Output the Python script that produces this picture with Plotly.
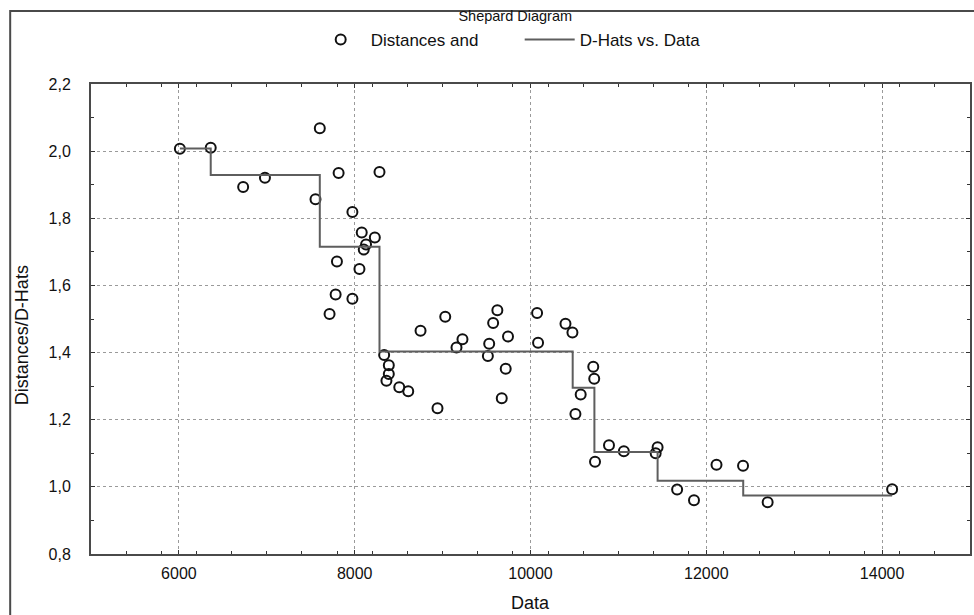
import plotly.graph_objects as go

# Observed distances (Data) and disparities
data_x = [6011, 6362, 6731, 6979, 7603, 7817, 8282, 7554, 7974, 8080, 8229, 8129, 8103,
          7798, 8054, 7783, 7974, 7714, 9623, 9030, 10075, 9575, 10398, 10477, 8749,
          9744, 9226, 9158, 9530, 10086, 8335, 9515, 8388, 8388, 8361, 9718, 8507,
          8609, 8942, 9673, 10714, 10725, 10571, 10511, 10893, 11062, 10734, 11446,
          11424, 12116, 12418, 11668, 11860, 12698, 14114]
distances = [2.007, 2.010, 1.893, 1.921, 2.068, 1.935, 1.938, 1.857, 1.819, 1.758, 1.743,
             1.722, 1.707, 1.671, 1.649, 1.573, 1.560, 1.515, 1.526, 1.507, 1.518, 1.488,
             1.486, 1.460, 1.465, 1.448, 1.440, 1.415, 1.426, 1.429, 1.393, 1.390, 1.362,
             1.336, 1.316, 1.352, 1.297, 1.285, 1.234, 1.264, 1.358, 1.322, 1.275, 1.217,
             1.124, 1.106, 1.075, 1.118, 1.100, 1.066, 1.063, 0.992, 0.960, 0.954, 0.993]

# D-hat step function
dhat_x = [6011, 6362, 7603, 8282, 10480, 10727, 11446, 12420, 14114]
dhat_y = [2.008, 1.929, 1.715, 1.403, 1.295, 1.104, 1.018, 0.974, 0.974]

x_ticks = [6000, 8000, 10000, 12000, 14000]
y_ticks = [0.8, 1.0, 1.2, 1.4, 1.6, 1.8, 2.0, 2.2]

FONT = "Liberation Sans, Arial, sans-serif"
INK = "#111111"

W, H = 974, 615
L, R, T, B = 91, 2, 84, 61
PW, PH = W - L - R, H - T - B


def px_x(p):
    return (p - L) / PW


def px_y(p):
    return (H - B - p) / PH


fig = go.Figure()
fig.add_trace(go.Scatter(
    x=data_x, y=distances, mode="markers", name="Distances and",
    marker=dict(symbol="circle-open", size=10, color=INK, line=dict(width=2, color=INK)),
))
fig.add_trace(go.Scatter(
    x=dhat_x, y=dhat_y, mode="lines", name="D-Hats vs. Data",
    line=dict(shape="hv", color="#5e5e5e", width=2),
))

axis_common = dict(
    showline=True, linecolor="#4a4a4a", linewidth=2, mirror="ticks",
    ticks="inside", ticklen=4, tickcolor="#333333", tickwidth=1,
    showgrid=True, gridcolor="#9a9a9a", griddash="dot", gridwidth=1,
    zeroline=False, tickfont=dict(family=FONT, size=16, color=INK),
)

fig.update_layout(
    width=W, height=H,
    margin=dict(l=L, r=R, t=T, b=B),
    paper_bgcolor="white", plot_bgcolor="white",
    separators=", ",
    font=dict(family=FONT, color=INK),
    title=dict(text="Shepard Diagram", x=0.529, xanchor="center", y=1 - 15.5 / H, yanchor="middle",
               font=dict(family=FONT, size=14.5, color=INK)),
    legend=dict(orientation="h", x=0.4877, xanchor="center", y=px_y(40), yanchor="middle",
                font=dict(family=FONT, size=17, color=INK), bgcolor="rgba(0,0,0,0)",
                itemwidth=50, entrywidth=144, entrywidthmode="pixels"),
    xaxis=dict(range=[5000, 15000], tickvals=x_ticks, tickformat="d", ticklabelstandoff=4,
               minor=dict(dtick=400, tick0=5000, ticks="inside", ticklen=3, tickcolor="#333333",
                          showgrid=False),
               **axis_common),
    yaxis=dict(range=[0.8, 2.2], tickvals=y_ticks, tickformat=".1f", ticklabelstandoff=15,
               minor=dict(dtick=0.1, tick0=0.8, ticks="inside", ticklen=3, tickcolor="#333333",
                          showgrid=False),
               **axis_common),
    annotations=[
        dict(text="Data", xref="paper", yref="paper", x=0.5, y=px_y(603), xanchor="center",
             yanchor="middle", showarrow=False, font=dict(family=FONT, size=18, color=INK)),
        dict(text="Distances/D-Hats", xref="paper", yref="paper", x=px_x(22), y=px_y(335),
             xanchor="center", yanchor="middle", textangle=-90, showarrow=False,
             font=dict(family=FONT, size=18, color=INK)),
    ],
    shapes=[dict(type="rect", xref="paper", yref="paper",
                 x0=px_x(10), x1=px_x(1000), y0=px_y(650), y1=px_y(11),
                 line=dict(color="#4a4a4a", width=2), fillcolor="rgba(0,0,0,0)", layer="below")],
)

# remove the default page margin so the 974x615 figure fills the window exactly
fig.write_html("out.html", config={"displayModeBar": False},
               post_script="document.body.style.margin='0';document.body.style.overflow='hidden';")
